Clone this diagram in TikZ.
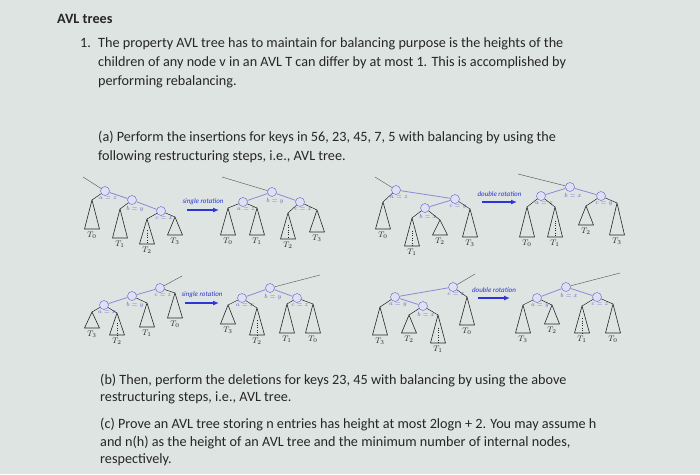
\documentclass[tikz,border=0pt]{standalone}
\usepackage{fontspec}
\setmainfont{Carlito}
\usetikzlibrary{calc}
\usetikzlibrary{positioning}
\usetikzlibrary{arrows.meta}

\definecolor{screen}{HTML}{DEE4E2}
\definecolor{ink}{HTML}{262626}
\definecolor{avlblue}{HTML}{5A63C8}
\definecolor{linkblue}{HTML}{8A8AD6}
\definecolor{rotblue}{HTML}{2B35D8}

\tikzset{
  txt/.style={anchor=base west, inner sep=0, font=\fontsize{14.2}{19}\selectfont, text=ink},
  avl/.style={circle, draw=avlblue, fill=white!80!avlblue, minimum size=9, inner sep=0},
  tl/.style={font=\fontsize{8}{8}\selectfont, text=ink, inner sep=1, anchor=north},
  nl/.style={font=\fontsize{6}{6}\selectfont, text=avlblue, inner sep=1, xshift=3},
  hl/.style={draw=linkblue, thick},
  up/.style={draw=ink!80, thin},
  rot/.style={-{Latex[length=6pt,width=5pt]}, draw=rotblue, line width=2pt},
  rotlbl/.style={font=\fontsize{7}{7}\selectfont\itshape, text=rotblue, inner sep=1},
  pics/subtree/.style 2 args={code={
    \coordinate (-apex) at (0,0);
    \draw[ink, semithick, line join=round] (-apex) -- (-7.5,#1) -- (7.5,#1) -- cycle;
    \node[tl] (-name) at (0,#1+2) {#2};
  }},
  pics/deeptree/.style 2 args={code={
    \coordinate (-apex) at (0,0);
    \draw[ink, semithick, line join=round] (-apex) -- (-7.5,#1) -- (7.5,#1) -- cycle;
    \draw[ink, dotted] (0,#1*0.45) -- (0,#1);
    \node[tl] (-name) at (0,#1+2) {#2};
  }}
}

\begin{document}
\begin{tikzpicture}[x=1pt, y=-1pt]

\fill[screen] (0,0) rectangle (700,474);
\useasboundingbox (0,0) rectangle (700,474);

% text above
\node[txt, font=\fontsize{14.2}{19}\selectfont\bfseries] (title) at (57,23) {AVL trees};
\node[txt] (q1) at (80,47) {1.};
\node[txt] (q1a) at (98,47) {The property AVL tree has to maintain for balancing purpose is the heights of the};
\node[txt] (q1b) at (98,66) {children of any node v in an AVL T can differ by at most 1. This is accomplished by};
\node[txt] (q1c) at (98,85) {performing rebalancing.};
\node[txt] (qa1) at (98,141) {(a) Perform the insertions for keys in 56, 23, 45, 7, 5 with balancing by using the};
\node[txt] (qa2) at (98,160) {following restructuring steps, i.e., AVL tree.};

% single rotation
\coordinate (pA) at (83,177);
\node[avl, label={[nl]below:$a=z$}] (a1) at (105,191) {};
\node[avl, label={[nl]below:$b=y$}] (b1) at (132,200) {};
\node[avl, label={[nl]below:$c=x$}] (c1) at (161,211) {};
\pic (t0a) at (92,200) {subtree={29}{$T_0$}};
\pic (t1a) at (120,209) {subtree={29}{$T_1$}};
\pic (t2a) at (147,219) {deeptree={25}{$T_2$}};
\pic (t3a) at (175,217) {subtree={18}{$T_3$}};
\draw[up] (pA) -- (a1);
\draw[hl] (a1) -- (b1) -- (c1);
\draw (a1) -- (t0a-apex);
\draw (b1) -- (t1a-apex);
\draw (c1) -- (t2a-apex);
\draw (c1) -- (t3a-apex);

\coordinate (s1) at (187,210);
\coordinate (e1) at (219,210);
\draw[rot] (s1) -- (e1) node[midway, above=3pt, rotlbl] {single rotation};

\coordinate (pB) at (222,177);
\node[avl, label={[nl]below:$b=y$}] (b2) at (272,192) {};
\node[avl, label={[nl]below:$a=z$}] (a2) at (243,202) {};
\node[avl, label={[nl]below:$c=x$}] (c2) at (300,202) {};
\pic (t0b) at (228,208) {subtree={27}{$T_0$}};
\pic (t1b) at (257,208) {subtree={27}{$T_1$}};
\pic (t2b) at (288,213) {deeptree={26}{$T_2$}};
\pic (t3b) at (317,210) {subtree={22}{$T_3$}};
\draw[up] (pB) -- (b2);
\draw[hl] (a2) -- (b2) -- (c2);
\draw (a2) -- (t0b-apex);
\draw (a2) -- (t1b-apex);
\draw (c2) -- (t2b-apex);
\draw (c2) -- (t3b-apex);

% double rotation
\coordinate (pC) at (375,177);
\node[avl, label={[nl]below:$a=z$}] (a3) at (396,190) {};
\node[avl, label={[nl]below:$c=y$}] (c3) at (455,199) {};
\node[avl, label={[nl]below:$b=x$}] (b3) at (425,208) {};
\pic (t0c) at (383,202) {subtree={27}{$T_0$}};
\pic (t1c) at (412,218) {deeptree={28}{$T_1$}};
\pic (t2c) at (440,220) {subtree={15}{$T_2$}};
\pic (t3c) at (470,209) {subtree={28}{$T_3$}};
\draw[up] (pC) -- (a3);
\draw[hl] (a3) -- (c3) -- (b3);
\draw (a3) -- (t0c-apex);
\draw (b3) -- (t1c-apex);
\draw (b3) -- (t2c-apex);
\draw (c3) -- (t3c-apex);

\coordinate (s2) at (482,202);
\coordinate (e2) at (517,202);
\draw[rot] (s2) -- (e2) node[midway, above=3pt, rotlbl] {double rotation};

\coordinate (pD) at (518,174);
\node[avl, label={[nl]below:$b=x$}] (b4) at (570,187) {};
\node[avl, label={[nl]below:$a=z$}] (a4) at (541,196) {};
\node[avl, label={[nl]below:$c=y$}] (c4) at (601,196) {};
\pic (t0d) at (527,207) {subtree={30}{$T_0$}};
\pic (t1d) at (555,207) {deeptree={30}{$T_1$}};
\pic (t2d) at (586,206) {subtree={19}{$T_2$}};
\pic (t3d) at (617,203) {subtree={32}{$T_3$}};
\draw[up] (pD) -- (b4);
\draw[hl] (a4) -- (b4) -- (c4);
\draw (a4) -- (t0d-apex);
\draw (a4) -- (t1d-apex);
\draw (c4) -- (t2d-apex);
\draw (c4) -- (t3d-apex);

% mirrored single rotation
\coordinate (pE) at (182,276);
\node[avl, label={[nl]below:$c=z$}] (c5) at (160,288) {};
\node[avl, label={[nl]below:$b=y$}] (b5) at (132,296) {};
\node[avl, label={[nl]below:$a=x$}] (a5) at (104,305) {};
\pic (t3e) at (92,312) {subtree={16}{$T_3$}};
\pic (t2e) at (117,313) {deeptree={22}{$T_2$}};
\pic (t1e) at (147,303) {subtree={24}{$T_1$}};
\pic (t0e) at (175,293) {subtree={25}{$T_0$}};
\draw[up] (pE) -- (c5);
\draw[hl] (c5) -- (b5) -- (a5);
\draw (a5) -- (t3e-apex);
\draw (a5) -- (t2e-apex);
\draw (b5) -- (t1e-apex);
\draw (c5) -- (t0e-apex);

\coordinate (s3) at (185,303);
\coordinate (e3) at (219,303);
\draw[rot] (s3) -- (e3) node[midway, above=3pt, rotlbl] {single rotation};

\coordinate (pF) at (320,275);
\node[avl, label={[nl]below:$b=y$}] (b6) at (270,288) {};
\node[avl, label={[nl]below:$a=x$}] (a6) at (242,298) {};
\node[avl, label={[nl]below:$c=z$}] (c6) at (297,298) {};
\pic (t3f) at (228,305) {subtree={19}{$T_3$}};
\pic (t2f) at (257,308) {deeptree={27}{$T_2$}};
\pic (t1f) at (287,304) {subtree={29}{$T_1$}};
\pic (t0f) at (313,304) {subtree={29}{$T_0$}};
\draw[up] (pF) -- (b6);
\draw[hl] (a6) -- (b6) -- (c6);
\draw (a6) -- (t3f-apex);
\draw (a6) -- (t2f-apex);
\draw (c6) -- (t1f-apex);
\draw (c6) -- (t0f-apex);

% mirrored double rotation
\coordinate (pG) at (475,274);
\node[avl, label={[nl]below:$c=z$}] (c7) at (453,287) {};
\node[avl, label={[nl]below:$a=y$}] (a7) at (395,297) {};
\node[avl, label={[nl]below:$b=x$}] (b7) at (423,306) {};
\pic (t3g) at (380,307) {subtree={28}{$T_3$}};
\pic (t2g) at (409,315) {subtree={18}{$T_2$}};
\pic (t1g) at (438,315) {deeptree={28}{$T_1$}};
\pic (t0g) at (467,297) {subtree={28}{$T_0$}};
\draw[up] (pG) -- (c7);
\draw[hl] (c7) -- (a7) -- (b7);
\draw (a7) -- (t3g-apex);
\draw (b7) -- (t2g-apex);
\draw (b7) -- (t1g-apex);
\draw (c7) -- (t0g-apex);

\coordinate (s4) at (478,298);
\coordinate (e4) at (510,298);
\draw[rot] (s4) -- (e4) node[midway, above=3pt, rotlbl] {double rotation};

\coordinate (pH) at (620,273);
\node[avl, label={[nl]below:$b=x$}] (b8) at (566,287) {};
\node[avl, label={[nl]below:$a=y$}] (a8) at (537,298) {};
\node[avl, label={[nl]below:$c=z$}] (c8) at (597,297) {};
\pic (t3h) at (523,305) {subtree={28}{$T_3$}};
\pic (t2h) at (552,305) {subtree={19}{$T_2$}};
\pic (t1h) at (582,306) {deeptree={27}{$T_1$}};
\pic (t0h) at (613,304) {subtree={29}{$T_0$}};
\draw[up] (pH) -- (b8);
\draw[hl] (a8) -- (b8) -- (c8);
\draw (a8) -- (t3h-apex);
\draw (a8) -- (t2h-apex);
\draw (c8) -- (t1h-apex);
\draw (c8) -- (t0h-apex);

% text below
\node[txt] (qb1) at (100,384) {(b) Then, perform the deletions for keys 23, 45 with balancing by using the above};
\node[txt] (qb2) at (100,401) {restructuring steps, i.e., AVL tree.};
\node[txt] (qc1) at (100,428) {(c) Prove an AVL tree storing n entries has height at most 2logn + 2. You may assume h};
\node[txt] (qc2) at (100,446) {and n(h) as the height of an AVL tree and the minimum number of internal nodes,};
\node[txt] (qc3) at (100,463) {respectively.};

\end{tikzpicture}
\end{document}
